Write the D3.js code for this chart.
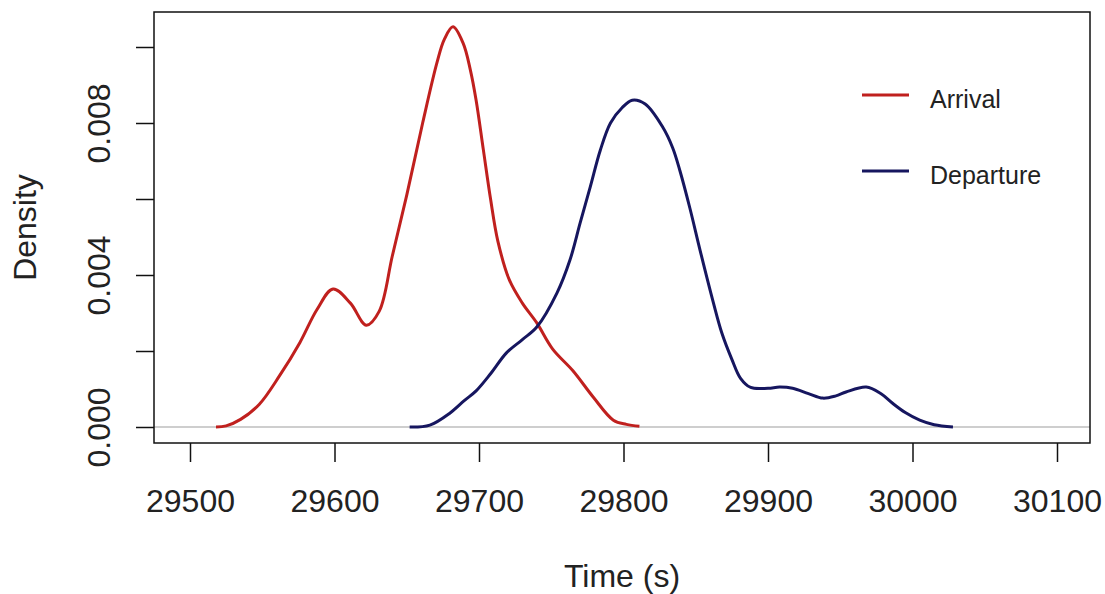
<!doctype html>
<html>
<head>
<meta charset="utf-8">
<title>Arrival / Departure density</title>
<style>
*{margin:0;padding:0;}
body{background:white;}
svg text{font-family:"Liberation Sans",Arial,sans-serif;fill:#222;}
</style>
</head>
<body>
<script src="https://cdn.jsdelivr.net/npm/d3@7"></script>
<script>
// time (s) and density
var arrivalT = [29518,29525,29535,29548,29562,29576,29588,29599,29611,29622,29631,29640,29650,29661,29671,29676,29682,29689,29694,29698,29703,29708,29713,29721,29730,29740,29751,29765,29779,29793,29802,29811];
var arrivalD = [0.00000,0.00003,0.00020,0.00060,0.00135,0.00222,0.00310,0.00363,0.00326,0.00268,0.00305,0.00450,0.00610,0.00800,0.00960,0.01020,0.01053,0.01010,0.00940,0.00860,0.00730,0.00600,0.00490,0.00387,0.00326,0.00274,0.00205,0.00148,0.00079,0.00018,0.00007,0.00002];

var departureT = [29652,29666,29680,29690,29698,29708,29719,29730,29740,29754,29763,29770,29777,29784,29791,29799,29806,29815,29827,29834,29839,29846,29853,29862,29868,29875,29881,29888,29900,29908,29917,29928,29938,29947,29954,29968,29978,29986,29995,30005,30015,30028];
var departureD = [0.00000,0.00005,0.00037,0.00070,0.00095,0.00140,0.00195,0.00230,0.00263,0.00353,0.00440,0.00537,0.00632,0.00729,0.00800,0.00840,0.00860,0.00850,0.00790,0.00735,0.00675,0.00575,0.00465,0.00330,0.00248,0.00178,0.00128,0.00104,0.00102,0.00105,0.00102,0.00088,0.00076,0.00082,0.00092,0.00105,0.00088,0.00063,0.00038,0.00018,0.00006,0.00000];

var xTicks = [29500,29600,29700,29800,29900,30000,30100];
var yTicks = [0,0.002,0.004,0.006,0.008,0.010];
var yLabeled = [0,0.004,0.008];

var seriesNames = ["Arrival","Departure"];
var seriesColors = ["#c0201e","#16165f"];

var svg = d3.select("body").append("svg")
  .attr("width",1105).attr("height",594);

var box = {left:154, top:12, right:1090, bottom:443};

var x = d3.scaleLinear().domain([29500,30100]).range([190,1057]);
var y = d3.scaleLinear().domain([0,0.010]).range([427,47]);

// zero line
svg.append("line")
  .attr("x1",box.left).attr("x2",box.right)
  .attr("y1",y(0)).attr("y2",y(0))
  .attr("stroke","#bebebe").attr("stroke-width",1.5);

// curves
var line = d3.line()
  .x(function(d){return x(d[0]);})
  .y(function(d){return y(d[1]);})
  .curve(d3.curveCatmullRom.alpha(0.5));

var series = [
  d3.zip(arrivalT, arrivalD),
  d3.zip(departureT, departureD)
];
series.forEach(function(s,i){
  svg.append("path")
    .datum(s)
    .attr("d",line)
    .attr("fill","none")
    .attr("stroke",seriesColors[i])
    .attr("stroke-width",3)
    .attr("stroke-linejoin","round");
});

// frame
svg.append("rect")
  .attr("x",box.left).attr("y",box.top)
  .attr("width",box.right-box.left).attr("height",box.bottom-box.top)
  .attr("fill","none").attr("stroke","#111").attr("stroke-width",1.5);

// x axis
var gx = svg.append("g")
  .attr("transform","translate(0,"+box.bottom+")")
  .call(d3.axisBottom(x).tickValues(xTicks).tickSize(19).tickFormat(d3.format("d")));
gx.select(".domain").remove();
gx.selectAll("line").attr("stroke","#111").attr("stroke-width",1.5);
gx.selectAll("text")
  .attr("y",69).attr("dy",0)
  .style("font-size","32px").style("font-family","Liberation Sans, Arial, sans-serif").attr("fill","#222");

// y axis
var gy = svg.append("g")
  .attr("transform","translate("+box.left+",0)")
  .call(d3.axisLeft(y).tickValues(yTicks).tickSize(18)
    .tickFormat(function(d){
      return yLabeled.some(function(v){return Math.abs(v-d)<1e-9;}) ? d3.format(".3f")(d) : "";
    }));
gy.select(".domain").remove();
gy.selectAll("line").attr("stroke","#111").attr("stroke-width",1.5);
gy.selectAll("text")
  .attr("transform","rotate(-90)")
  .attr("x",0).attr("y",-44).attr("dy",0)
  .attr("text-anchor","middle")
  .style("font-size","32px").style("font-family","Liberation Sans, Arial, sans-serif").attr("fill","#222");

// axis titles
svg.append("text")
  .attr("x",(box.left+box.right)/2).attr("y",587)
  .attr("text-anchor","middle")
  .style("font-size","32px")
  .text("Time (s)");

svg.append("text")
  .attr("transform","translate(36,"+((box.top+box.bottom)/2)+") rotate(-90)")
  .attr("text-anchor","middle")
  .style("font-size","32px")
  .text("Density");

// legend
var legendY = [95,171];
seriesNames.forEach(function(n,i){
  svg.append("line")
    .attr("x1",862).attr("x2",909)
    .attr("y1",legendY[i]).attr("y2",legendY[i])
    .attr("stroke",seriesColors[i]).attr("stroke-width",3);
  svg.append("text")
    .attr("x",930).attr("y",legendY[i]+13)
    .style("font-size","25px")
    .text(n);
});
</script>
</body>
</html>
